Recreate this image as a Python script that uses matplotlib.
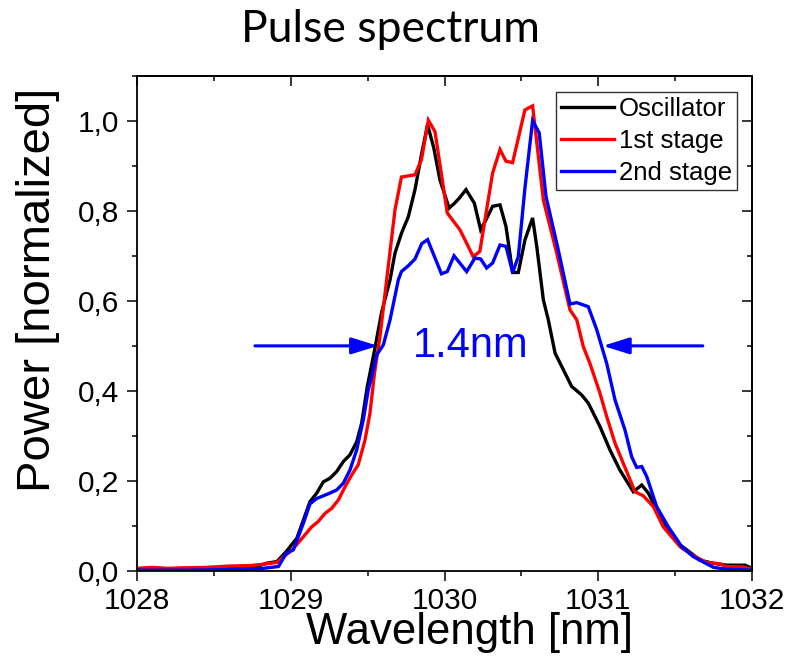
import matplotlib
matplotlib.use("Agg")
import matplotlib.pyplot as plt
from matplotlib.ticker import MultipleLocator, FuncFormatter

# ---- data ----
osc_x = [1028.0, 1028.2, 1028.4, 1028.6, 1028.78, 1028.84, 1028.91, 1028.97, 1029.04,
         1029.082, 1029.125, 1029.169, 1029.212, 1029.255, 1029.299, 1029.342, 1029.385,
         1029.429, 1029.461, 1029.498, 1029.545, 1029.59, 1029.646, 1029.678, 1029.72,
         1029.765, 1029.808, 1029.852, 1029.89, 1029.93, 1029.97, 1030.03, 1030.06,
         1030.096, 1030.14, 1030.194, 1030.235, 1030.27, 1030.313, 1030.361, 1030.40,
         1030.443, 1030.48, 1030.523, 1030.573, 1030.60, 1030.643, 1030.675, 1030.719,
         1030.773, 1030.827, 1030.892, 1030.935, 1031.011, 1031.076, 1031.141, 1031.228,
         1031.283, 1031.326, 1031.38, 1031.445, 1031.532, 1031.618, 1031.66, 1031.75,
         1031.835, 1031.954, 1032.0]
osc_y = [0.004, 0.003, 0.005, 0.007, 0.010, 0.017, 0.021, 0.043, 0.073,
         0.113, 0.154, 0.173, 0.198, 0.206, 0.221, 0.243, 0.258,
         0.287, 0.328, 0.410, 0.490, 0.573, 0.647, 0.706, 0.750,
         0.787, 0.847, 0.928, 0.991, 0.940, 0.869, 0.806, 0.815,
         0.828, 0.847, 0.817, 0.758, 0.780, 0.810, 0.813, 0.765,
         0.663, 0.663, 0.735, 0.784, 0.721, 0.602, 0.558, 0.484,
         0.447, 0.410, 0.391, 0.373, 0.321, 0.269, 0.224, 0.176,
         0.191, 0.173, 0.136, 0.098, 0.058, 0.036, 0.024, 0.017,
         0.013, 0.013, 0.006]

st1_x = [1028.0, 1028.1, 1028.2, 1028.3, 1028.45, 1028.6, 1028.735, 1028.82, 1028.91,
         1028.995, 1029.017, 1029.082, 1029.136, 1029.179, 1029.223, 1029.266, 1029.31,
         1029.353, 1029.396, 1029.439, 1029.483, 1029.515, 1029.545, 1029.58, 1029.624,
         1029.678, 1029.72, 1029.808, 1029.85, 1029.895, 1029.938, 1030.018, 1030.10,
         1030.144, 1030.187, 1030.23, 1030.313, 1030.361, 1030.40, 1030.443, 1030.523,
         1030.573, 1030.643, 1030.73, 1030.816, 1030.86, 1030.903, 1030.946, 1031.011,
         1031.055, 1031.109, 1031.163, 1031.239, 1031.293, 1031.358, 1031.423, 1031.532,
         1031.618, 1031.705, 1031.79, 1031.835, 1031.94, 1032.0]
st1_y = [0.006, 0.008, 0.006, 0.007, 0.008, 0.011, 0.012, 0.015, 0.019,
         0.043, 0.050, 0.076, 0.098, 0.110, 0.128, 0.139, 0.158,
         0.187, 0.213, 0.236, 0.291, 0.350, 0.440, 0.520, 0.647,
         0.802, 0.875, 0.880, 0.913, 1.001, 0.976, 0.795, 0.758,
         0.728, 0.698, 0.710, 0.884, 0.936, 0.910, 0.907, 1.024,
         1.033, 0.824, 0.706, 0.580, 0.558, 0.498, 0.461, 0.395,
         0.343, 0.284, 0.239, 0.176, 0.167, 0.143, 0.098, 0.054,
         0.034, 0.019, 0.016, 0.010, 0.009, 0.004]

st2_x = [1028.0, 1028.3, 1028.6, 1028.8, 1028.92, 1028.97, 1029.017, 1029.082, 1029.125,
         1029.169, 1029.212, 1029.255, 1029.299, 1029.342, 1029.385, 1029.429, 1029.472,
         1029.504, 1029.527, 1029.559, 1029.602, 1029.646, 1029.70, 1029.72, 1029.765,
         1029.808, 1029.852, 1029.89, 1029.98, 1030.018, 1030.062, 1030.144, 1030.198,
         1030.235, 1030.274, 1030.313, 1030.361, 1030.40, 1030.443, 1030.48, 1030.523,
         1030.573, 1030.616, 1030.66, 1030.74, 1030.816, 1030.86, 1030.935, 1030.99,
         1031.055, 1031.109, 1031.174, 1031.217, 1031.25, 1031.283, 1031.315, 1031.38,
         1031.456, 1031.543, 1031.618, 1031.705, 1031.75, 1031.835, 1032.0]
st2_y = [0.002, 0.002, 0.003, 0.005, 0.010, 0.039, 0.047, 0.106, 0.149,
         0.161, 0.167, 0.173, 0.180, 0.195, 0.224, 0.269, 0.336,
         0.402, 0.432, 0.480, 0.502, 0.558, 0.647, 0.665, 0.678,
         0.693, 0.727, 0.736, 0.660, 0.665, 0.700, 0.665, 0.695,
         0.693, 0.673, 0.684, 0.724, 0.721, 0.663, 0.698, 0.850,
         1.000, 0.973, 0.832, 0.713, 0.593, 0.596, 0.587, 0.536,
         0.461, 0.380, 0.313, 0.254, 0.230, 0.232, 0.210, 0.143,
         0.098, 0.054, 0.032, 0.016, 0.008, 0.004, 0.002]

series_names = ["Oscillator", "1st stage", "2nd stage"]
series_colors = ["#000000", "#ff0000", "#0000ff"]

fwhm_left = 1029.567
fwhm_right = 1031.03
fwhm_level = 0.5
arrow_left_start = 1028.767
arrow_right_start = 1031.68
fwhm_text = "1.4nm"
fwhm_text_x = 1030.17

# ---- figure ----
plt.rcParams['font.family'] = ['Liberation Sans', 'DejaVu Sans']
fig = plt.figure(figsize=(7.89, 6.71), dpi=100)
ax = fig.add_axes([137/789, 100/671, 615/789, 495.3/671])

for xs, ys, name, c in zip([osc_x, st1_x, st2_x], [osc_y, st1_y, st2_y],
                           series_names, series_colors):
    ax.plot(xs, ys, color=c, lw=2.4, label=name, solid_joinstyle='miter')

ax.set_xlim(1028, 1032)
ax.set_ylim(0, 1.1)
ax.xaxis.set_major_locator(MultipleLocator(1))
ax.xaxis.set_minor_locator(MultipleLocator(0.5))
ax.yaxis.set_major_locator(MultipleLocator(0.2))
ax.yaxis.set_minor_locator(MultipleLocator(0.1))
ax.yaxis.set_major_formatter(FuncFormatter(lambda v, p: f"{v:.1f}".replace('.', ',')))
ax.xaxis.set_major_formatter(FuncFormatter(lambda v, p: f"{v:.0f}"))

ax.tick_params(which='both', direction='out', width=1.1, labelsize=21.5,
               top=False, right=False)
ax.tick_params(which='major', length=7.2)
ax.tick_params(which='minor', length=3.6)
ax.tick_params(axis='x', pad=4)
ax.tick_params(axis='y', pad=5.5)

# inward ticks on top and right
sec_x = ax.secondary_xaxis('top')
sec_x.xaxis.set_major_locator(MultipleLocator(1))
sec_x.xaxis.set_minor_locator(MultipleLocator(0.5))
sec_x.tick_params(which='both', direction='in', width=1.1, labeltop=False)
sec_x.tick_params(which='major', length=7.2)
sec_x.tick_params(which='minor', length=3.6)
sec_y = ax.secondary_yaxis('right')
sec_y.yaxis.set_major_locator(MultipleLocator(0.2))
sec_y.yaxis.set_minor_locator(MultipleLocator(0.1))
sec_y.tick_params(which='both', direction='in', width=1.1, labelright=False)
sec_y.tick_params(which='major', length=7.2)
sec_y.tick_params(which='minor', length=3.6)
for s in list(ax.spines.values()) + [sec_x.spines['top'], sec_y.spines['right']]:
    s.set_linewidth(1.3)

ax.set_xlabel("Wavelength [nm]", fontsize=31.5)
ax.xaxis.set_label_coords((469 - 137) / 615, (571 - 612) / 495.3)
ax.set_ylabel("Power [normalized]", fontsize=34)
ax.yaxis.set_label_coords((60 - 137) / 615, (571 - 290) / 495.3)

leg = ax.legend(loc='upper right', bbox_to_anchor=(600/615, 479/495.3),
                borderaxespad=0, fontsize=18.5, frameon=True, fancybox=False,
                edgecolor='black', handlelength=2.05, handletextpad=0.2,
                borderpad=0.2, labelspacing=0.3)
leg.get_frame().set_linewidth(1.0)

arrow_style = dict(arrowstyle='-|>,head_length=0.8,head_width=0.25', color='#0000ff',
                   lw=2.2, mutation_scale=20, shrinkA=0, shrinkB=0)
ax.annotate('', xy=(fwhm_left, fwhm_level), xytext=(arrow_left_start, fwhm_level),
            arrowprops=arrow_style)
ax.annotate('', xy=(fwhm_right, fwhm_level), xytext=(arrow_right_start, fwhm_level),
            arrowprops=arrow_style)
ax.text(fwhm_text_x, fwhm_level, fwhm_text, color='#0000ff',
        fontsize=30, ha='center', va='center')

fig.text(390/789, 1 - 42/671, "Pulse spectrum", fontsize=32,
         family=['Lato', 'DejaVu Sans'], ha='center', va='baseline')

fig.savefig("out.png", dpi=100)
